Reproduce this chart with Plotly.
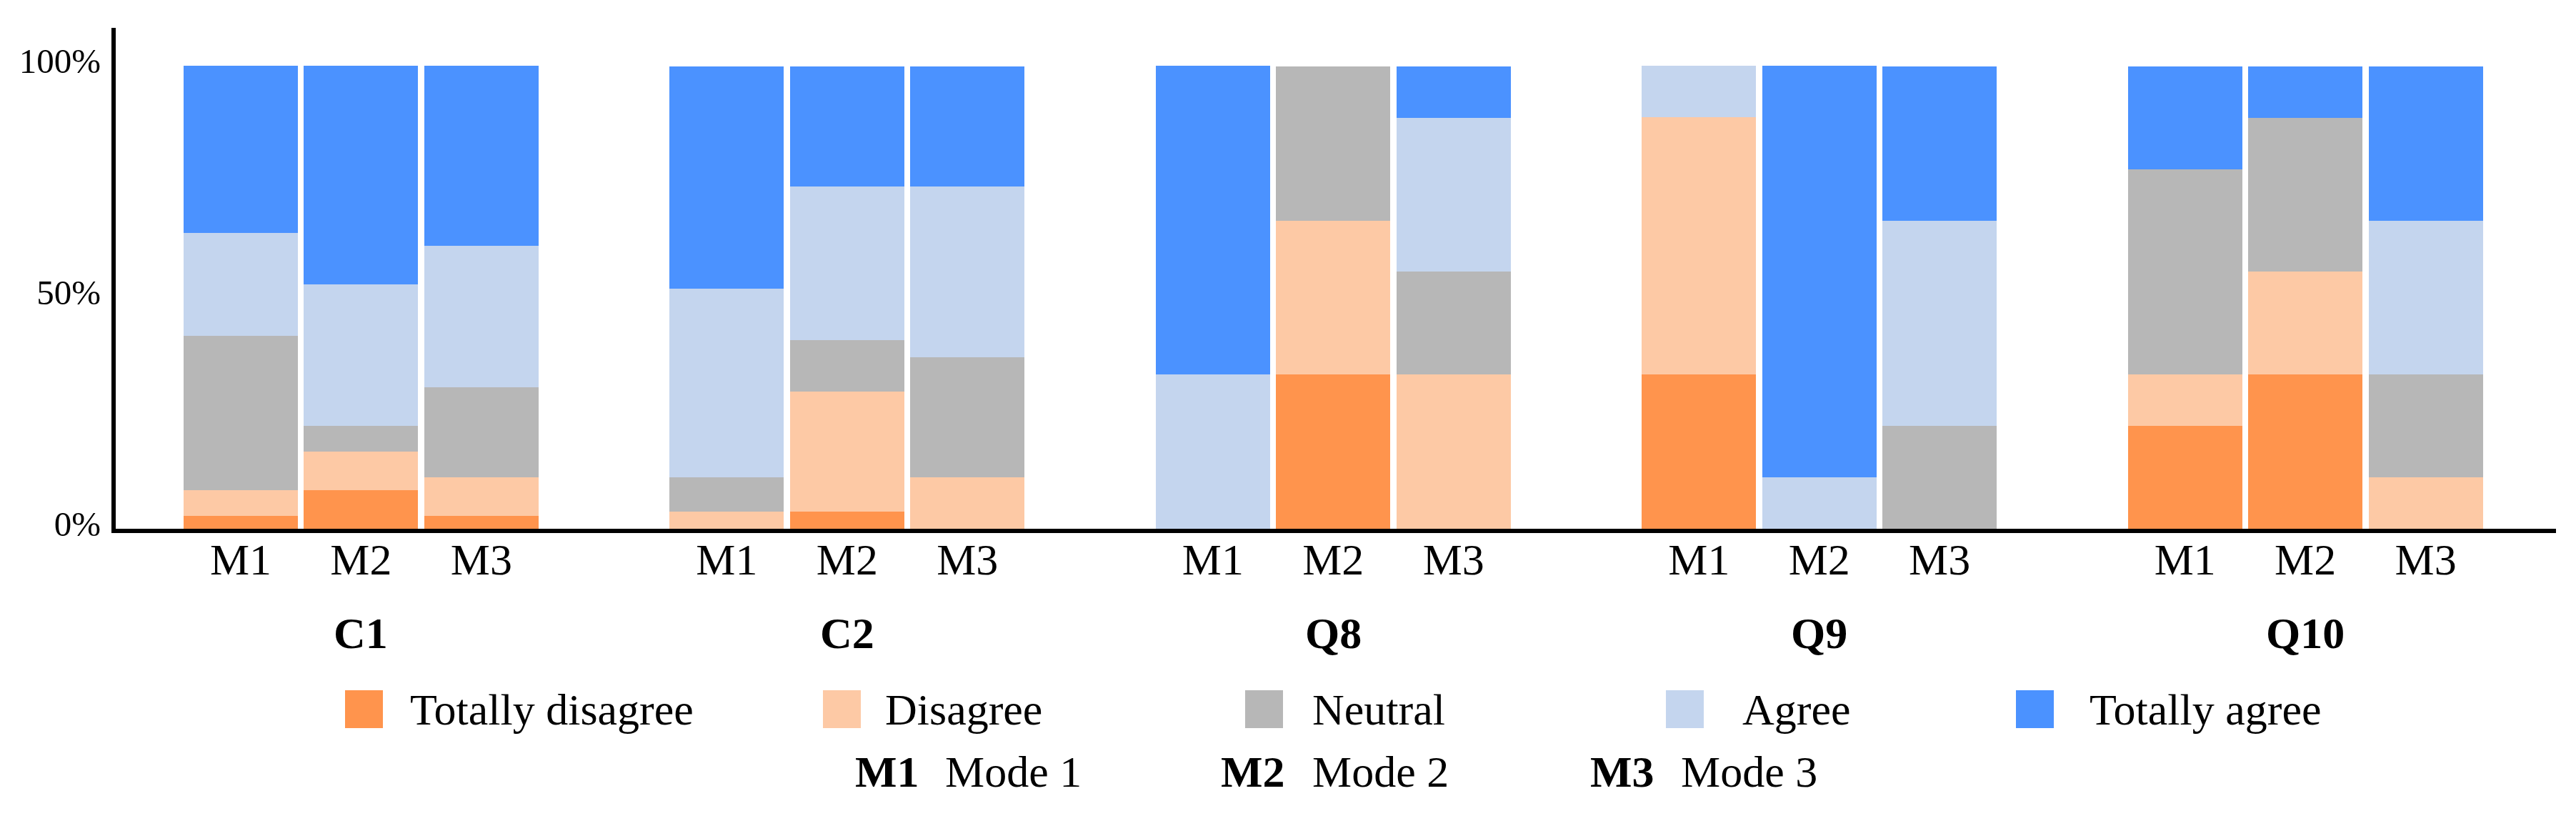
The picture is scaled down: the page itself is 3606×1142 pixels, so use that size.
import plotly.graph_objects as go

# ---------------- data ----------------
groups = ["C1", "C2", "Q8", "Q9", "Q10"]
modes = ["M1", "M2", "M3"]
mode_names = ["Mode 1", "Mode 2", "Mode 3"]
levels = ["Totally disagree", "Disagree", "Neutral", "Agree", "Totally agree"]
y_tick_vals = [0, 50, 100]
y_tick_text = ["0%", "50%", "100%"]

# percentages, order: C1(M1,M2,M3), C2(...), Q8(...), Q9(...), Q10(...)
totally_disagree = [2.8, 8.3, 2.8, 0, 3.7, 0, 0, 33.3, 0, 33.3, 0, 0, 22.2, 33.3, 0]
disagree = [5.6, 8.3, 8.3, 3.7, 25.9, 11.1, 0, 33.3, 33.3, 55.6, 0, 0, 11.1, 22.2, 11.1]
neutral = [33.3, 5.6, 19.4, 7.4, 11.1, 25.9, 0, 33.3, 22.2, 0, 0, 22.2, 44.4, 33.3, 22.2]
agree = [22.2, 30.6, 30.6, 40.7, 33.3, 37.0, 33.3, 0, 33.3, 11.1, 11.1, 44.4, 0, 0, 33.3]
totally_agree = [36.1, 47.2, 38.9, 48.1, 25.9, 25.9, 66.7, 0, 11.1, 0, 88.9, 33.3, 22.2, 11.1, 33.3]

series = [totally_disagree, disagree, neutral, agree, totally_agree]
colors = ["#FF944D", "#FDC9A5", "#B7B7B7", "#C4D5EE", "#4B92FF"]

# ---------------- layout helpers ----------------
OFF = 8  # page body margin
W, H = 3606 - 2 * OFF, 1142 - 2 * OFF
P_LEFT, P_RIGHT, P_TOP, P_BOTTOM = 162, 3578, 39, 740  # plot area in screen px
ML = P_LEFT - OFF
MT = P_TOP - OFF
MR = (OFF + W) - P_RIGHT
MB = (OFF + H) - P_BOTTOM
PW, PH = P_RIGHT - P_LEFT, P_BOTTOM - P_TOP
FONT = "Liberation Serif, Times New Roman, Times, serif"

G = 4.04  # group spacing in bar-pitch units
xs = [g * G + m for g in range(len(groups)) for m in range(len(modes))]
ticktext = [m for _ in groups for m in modes]


def px_x(X):
    return (X - P_LEFT) / PW


def px_y(Y):
    return (P_BOTTOM - Y) / PH


fig = go.Figure()
for name, vals, col in zip(levels, series, colors):
    fig.add_trace(go.Bar(
        x=xs, y=vals, name=name, width=0.95,
        marker=dict(color=col, line=dict(width=0)),
        showlegend=False,
    ))

annotations = []
# group labels
for g, lab in enumerate(groups):
    annotations.append(dict(
        x=g * G + 1, xref="x", y=px_y(886), yref="paper",
        text="<b>%s</b>" % lab, showarrow=False,
        xanchor="center", yanchor="middle",
        font=dict(family=FONT, size=62, color="black"),
    ))

# custom legend (large square swatches)
swatch_left = [483, 1152, 1743, 2332, 2822]
text_left = [572, 1237, 1835, 2437, 2923]
shapes = []
for name, col, sx, tx in zip(levels, colors, swatch_left, text_left):
    shapes.append(dict(
        type="rect", xref="paper", yref="paper",
        x0=px_x(sx), x1=px_x(sx + 53), y0=px_y(1019), y1=px_y(966),
        fillcolor=col, line=dict(width=0),
    ))
    annotations.append(dict(
        x=px_x(tx), xref="paper", y=px_y(993), yref="paper",
        text=name, showarrow=False, xanchor="left", yanchor="middle",
        font=dict(family=FONT, size=62, color="black"),
    ))

# mode key row
code_left = [1195, 1707, 2224]
name_left = [1321, 1835, 2351]
for m, mn, cx, nx in zip(modes, mode_names, code_left, name_left):
    annotations.append(dict(
        x=px_x(cx), xref="paper", y=px_y(1080), yref="paper",
        text="<b>%s</b>" % m, showarrow=False, xanchor="left", yanchor="middle",
        font=dict(family=FONT, size=62, color="black"),
    ))
    annotations.append(dict(
        x=px_x(nx), xref="paper", y=px_y(1080), yref="paper",
        text=mn, showarrow=False, xanchor="left", yanchor="middle",
        font=dict(family=FONT, size=62, color="black"),
    ))

fig.update_layout(
    width=W, height=H,
    margin=dict(l=ML, r=MR, t=MT, b=MB, pad=0),
    barmode="stack",
    plot_bgcolor="white", paper_bgcolor="white",
    font=dict(family=FONT, color="black"),
    xaxis=dict(
        range=[-1.039, 19.243], tickvals=xs, ticktext=ticktext,
        tickfont=dict(family=FONT, size=62, color="black"),
        showline=True, linewidth=6, linecolor="black",
        showgrid=False, zeroline=False, ticks="",
        ticklabelstandoff=-16,
    ),
    yaxis=dict(
        range=[0, 108.2], tickvals=y_tick_vals, ticktext=y_tick_text,
        tickfont=dict(family=FONT, size=49, color="black"),
        showline=True, linewidth=6, linecolor="black",
        showgrid=False, zeroline=False, ticks="",
        ticklabelstandoff=5, ticklabelshift=-7,
    ),
    shapes=shapes,
    annotations=annotations,
    showlegend=False,
)

fig.write_html("out.html")
